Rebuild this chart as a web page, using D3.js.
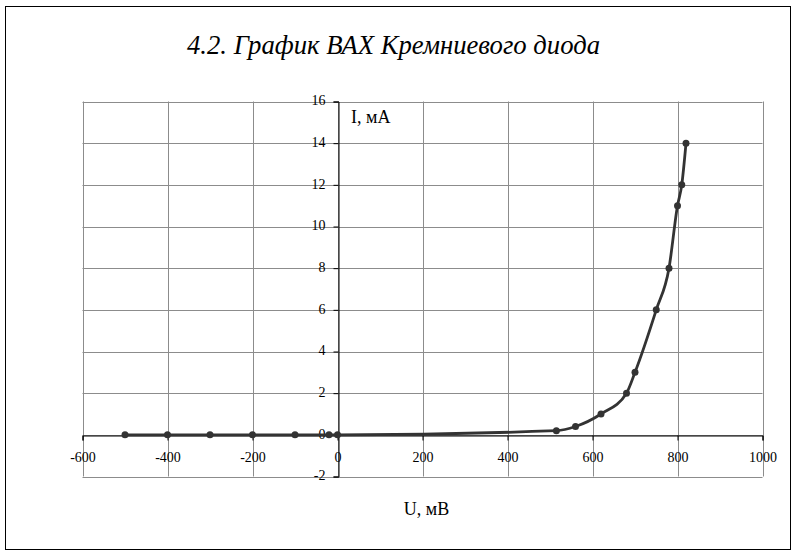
<!DOCTYPE html>
<html><head><meta charset="utf-8">
<script src="https://cdn.jsdelivr.net/npm/d3@7"></script>
<style>html,body{margin:0;padding:0;background:#fff;}svg{display:block;}</style>
</head><body>
<svg id="c" width="800" height="558"></svg>
<script>
const title = "4.2. График ВАХ Кремниевого диода";
const xLabel = "U, мВ";
const yLabel = "I, мА";
const voltage = [-500, -400, -300, -200, -100, -20, 0, 515, 560, 620, 680, 700, 750, 780, 800, 810, 820];
const current = [0, 0, 0, 0, 0, 0, 0, 0.2, 0.4, 1, 2, 3, 6, 8, 11, 12, 14];
const xTicks = [-600, -400, -200, 0, 200, 400, 600, 800, 1000];
const yTicks = [-2, 0, 2, 4, 6, 8, 10, 12, 14, 16];
const FONT = "Liberation Serif";

const svg = d3.select("#c");
svg.append("rect").attr("x",0).attr("y",0).attr("width",800).attr("height",558).attr("fill","#fff");
svg.append("rect").attr("x",5.5).attr("y",6.5).attr("width",785).attr("height",543)
  .attr("fill","none").attr("stroke","#000").attr("stroke-width",1);

const x = d3.scaleLinear().domain([-600,1000]).range([82.5,762.5]);
const y = d3.scaleLinear().domain([-2,16]).range([476.5,101.5]);

svg.append("text").attr("x",187).attr("y",54)
  .attr("font-family",FONT).attr("font-style","italic").attr("font-size",27)
  .attr("textLength",413).attr("lengthAdjust","spacingAndGlyphs")
  .attr("fill","#000").text(title);

const grid = svg.append("g").attr("stroke","#8c8c8c").attr("stroke-width",1);
xTicks.forEach(t => grid.append("line").attr("x1",Math.round(x(t))+0.5).attr("x2",Math.round(x(t))+0.5)
  .attr("y1",y(16)).attr("y2",y(-2)));
yTicks.forEach(t => grid.append("line").attr("y1",Math.round(y(t))+0.5).attr("y2",Math.round(y(t))+0.5)
  .attr("x1",x(-600)).attr("x2",x(1000)));

const x0 = Math.round(x(0))+0.5, y0 = Math.round(y(0))+0.5;
const xAxis = d3.axisBottom(x).tickValues(xTicks).tickSize(5).tickFormat(d => String(d));
const gx = svg.append("g").attr("transform",`translate(0,${y0})`).call(xAxis);
gx.attr("font-family",FONT).attr("font-size",14);
gx.select(".domain").attr("stroke","#000");
gx.selectAll(".tick line").attr("stroke","#000");
gx.selectAll(".tick text").attr("font-family",FONT).attr("font-size",14).attr("fill","#000")
  .attr("y",26).attr("dy",null);

const yAxis = d3.axisLeft(y).tickValues(yTicks).tickSize(5).tickFormat(d => String(d));
const gy = svg.append("g").attr("transform",`translate(${x0},0)`).call(yAxis);
gy.attr("font-family",FONT).attr("font-size",14);
gy.select(".domain").attr("stroke","#000");
gy.selectAll(".tick line").attr("stroke","#000");
gy.selectAll(".tick text").attr("font-family",FONT).attr("font-size",14).attr("fill","#000")
  .attr("x",-13).attr("dy","0.32em").attr("y",-1);

const data = voltage.map((v,i)=>({u:v,i:current[i]}));
const line = d3.line().x(d=>x(d.u)).y(d=>y(d.i)).curve(d3.curveMonotoneX);
svg.append("path").datum(data).attr("d",line).attr("fill","none")
  .attr("stroke","#333").attr("stroke-width",2.8).attr("stroke-linejoin","round");
svg.append("g").selectAll("circle").data(data).join("circle")
  .attr("cx",d=>x(d.u)).attr("cy",d=>y(d.i)).attr("r",3.5).attr("fill","#333");

svg.append("text").attr("x",351).attr("y",123).attr("font-family",FONT)
  .attr("font-size",18).attr("fill","#000").text(yLabel);
svg.append("text").attr("x",426.5).attr("y",515).attr("text-anchor","middle").attr("font-family",FONT)
  .attr("font-size",18).attr("fill","#000").text(xLabel);
</script>
</body></html>
